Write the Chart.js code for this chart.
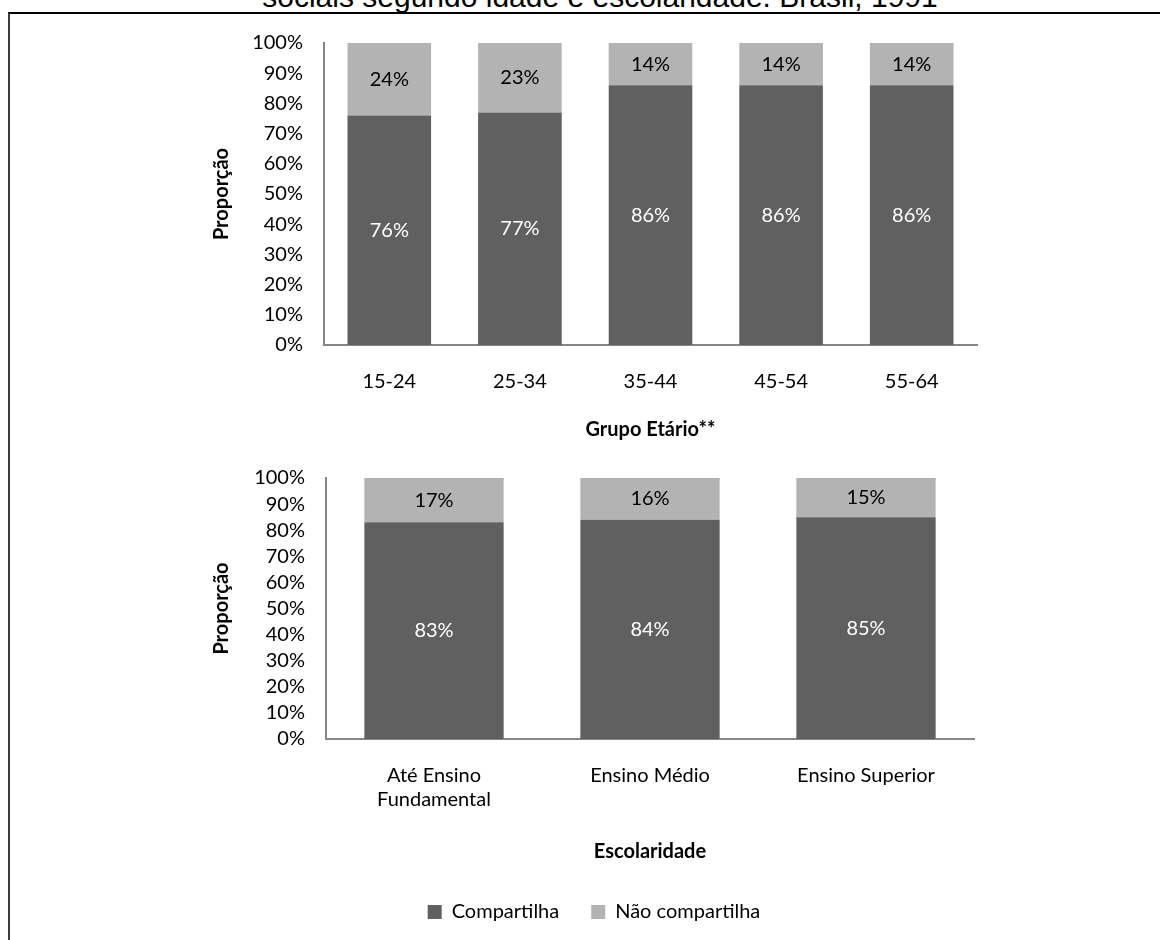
<!DOCTYPE html>
<html>
<head>
<meta charset="utf-8">
<script src="https://cdn.jsdelivr.net/npm/chart.js@4.4.0/dist/chart.umd.min.js"></script>
<style>
  html, body { margin: 0; padding: 0; background: #fff; }
  body { width: 1160px; height: 940px; position: relative; overflow: hidden; }
  #heading {
    position: absolute; left: 20px; width: 1160px; top: -18px;
    text-align: center; white-space: nowrap;
    font: 30px "Liberation Sans", Arial, sans-serif; line-height: 30px; color: #000;
  }
  #frame {
    position: absolute; left: 8px; top: 12px; width: 1200px; height: 1000px;
    border-top: 2px solid #000; border-left: 2px solid #3c3c3c;
  }
  .panel { position: absolute; left: 0; width: 1160px; }
  #agePanel { top: 0; height: 460px; }
  #eduPanel { top: 460px; height: 480px; }
</style>
</head>
<body>
<div id="heading">sociais segundo idade e escolaridade. Brasil, 1991</div>
<div id="frame"></div>
<div class="panel" id="agePanel"><canvas id="ageChart"></canvas></div>
<div class="panel" id="eduPanel"><canvas id="eduChart"></canvas></div>
<script>
// Age groups
const ageGroups = ['15-24', '25-34', '35-44', '45-54', '55-64'];
const ageShares = [76, 77, 86, 86, 86];
const ageNotShares = [24, 23, 14, 14, 14];

// Schooling levels
const eduLevels = [['Até Ensino', 'Fundamental'], 'Ensino Médio', 'Ensino Superior'];
const eduShares = [83, 84, 85];
const eduNotShares = [17, 16, 15];

const seriesNames = ['Compartilha', 'Não compartilha'];
const yTicks = [0, 10, 20, 30, 40, 50, 60, 70, 80, 90, 100];

const DARK = '#606060';
const LIGHT = '#b3b3b3';
const AXIS = '#868686';
const FONT = 'Lato, "Open Sans", sans-serif';

// Writes each segment's percentage in the middle of its bar piece
const segmentLabels = {
  id: 'segmentLabels',
  afterDatasetsDraw(chart) {
    const ctx = chart.ctx;
    ctx.save();
    ctx.font = '20px ' + FONT;
    ctx.textAlign = 'center';
    ctx.textBaseline = 'middle';
    chart.data.datasets.forEach((ds, i) => {
      const meta = chart.getDatasetMeta(i);
      ctx.fillStyle = ds.labelColor;
      meta.data.forEach((bar, j) => {
        const v = ds.data[j];
        ctx.fillText(v + '%', bar.x, (bar.y + bar.base) / 2);
      });
    });
    ctx.restore();
  }
};

function makeDatasets(shares, notShares, barPct) {
  return [
    { label: seriesNames[0], data: shares, backgroundColor: DARK, labelColor: '#ffffff',
      barPercentage: barPct, categoryPercentage: 1, borderWidth: 0 },
    { label: seriesNames[1], data: notShares, backgroundColor: LIGHT, labelColor: '#000000',
      barPercentage: barPct, categoryPercentage: 1, borderWidth: 0 }
  ];
}

function makeOptions(cfg) {
  return {
    responsive: true,
    maintainAspectRatio: false,
    animation: false,
    layout: { padding: cfg.padding },
    plugins: {
      tooltip: { enabled: false },
      legend: {
        display: cfg.legend,
        position: 'bottom',
        labels: { boxWidth: 14, boxHeight: 14, padding: 32, color: '#000', font: { family: FONT, size: 20 } }
      }
    },
    scales: {
      x: {
        stacked: true,
        grid: { display: false, drawTicks: false },
        border: { display: true, color: AXIS, width: 2 },
        ticks: { color: '#000', padding: 25, maxRotation: 0, autoSkip: false, font: { family: FONT, size: 20 } },
        title: { display: true, text: cfg.xTitle, color: '#000',
                 font: { family: FONT, size: 20, weight: 'bold' }, padding: { top: 0, bottom: cfg.xTitlePad } },
        afterFit(s) { s.height = cfg.xHeight; }
      },
      y: {
        stacked: true,
        min: 0, max: 100,
        afterBuildTicks(s) { s.ticks = yTicks.map(v => ({ value: v })); },
        grid: { display: false, drawTicks: false },
        border: { display: true, color: AXIS, width: 2 },
        ticks: { color: '#000', padding: 21, autoSkip: false, font: { family: FONT, size: 20 }, callback: v => v + '%' },
        title: { display: true, text: 'Proporção', color: '#000',
                 font: { family: FONT, size: 20, weight: 'bold' }, padding: { top: cfg.yTitlePad, bottom: 0 } },
        afterFit(s) {
          s.width = cfg.yWidth;
          // only the half-height of the end labels needs room above/below the plot
          s.paddingTop = 12;
          s.paddingBottom = 12;
        }
      }
    }
  };
}

new Chart(document.getElementById('ageChart'), {
  type: 'bar',
  data: { labels: ageGroups, datasets: makeDatasets(ageShares, ageNotShares, 0.64) },
  options: makeOptions({
    padding: { top: 43, left: 180, right: 183, bottom: 18 },
    legend: false, xTitle: 'Grupo Etário**', xTitlePad: 0, xHeight: 97, yWidth: 144, yTitlePad: 30
  }),
  plugins: [segmentLabels]
});

new Chart(document.getElementById('eduChart'), {
  type: 'bar',
  data: { labels: eduLevels, datasets: makeDatasets(eduShares, eduNotShares, 0.645) },
  options: makeOptions({
    padding: { top: 18, left: 214, right: 186, bottom: 8 },
    legend: true, xTitle: 'Escolaridade', xTitlePad: 6, xHeight: 131, yWidth: 112, yTitlePad: -4
  }),
  plugins: [segmentLabels]
});
</script>
</body>
</html>
